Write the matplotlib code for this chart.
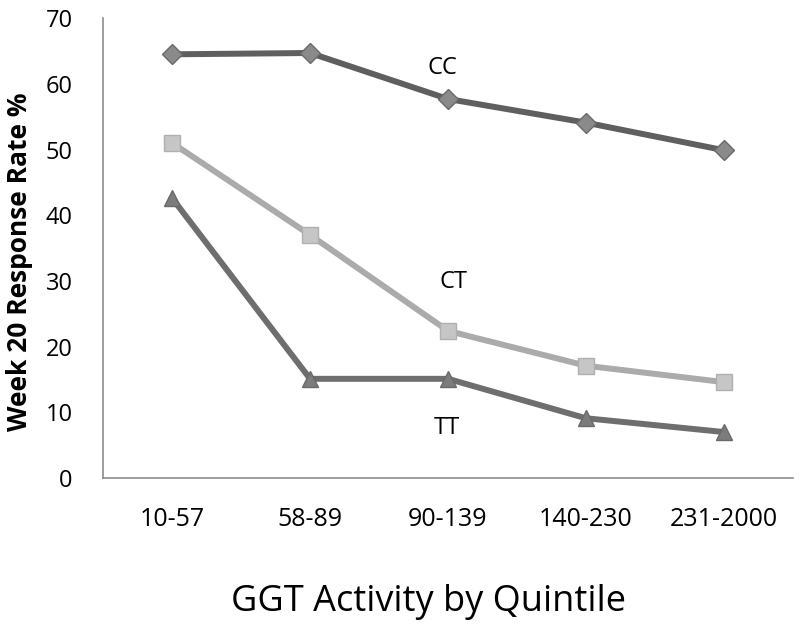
import matplotlib
matplotlib.use("Agg")
import matplotlib.pyplot as plt

plt.rcParams['font.family'] = ['Open Sans', 'DejaVu Sans']

quintiles = ['10-57', '58-89', '90-139', '140-230', '231-2000']
cc = [64.5, 64.7, 57.7, 54.1, 49.9]
ct = [51.0, 37.0, 22.4, 17.1, 14.6]
tt = [42.6, 15.1, 15.1, 9.1, 7.0]

fig = plt.figure(figsize=(8, 6.27), dpi=100)
ax = fig.add_axes([0.129, 0.2376, 0.862, 0.7334])

x = range(len(quintiles))
ax.plot(x, cc, color='#5f5f5f', lw=4.3, marker='D', ms=10,
        mfc='#8a8a8a', mec='#6a6a6a', zorder=3)
ax.plot(x, ct, color='#ababab', lw=4.3, marker='s', ms=12,
        mfc='#c6c6c6', mec='#b0b0b0', zorder=2)
ax.plot(x, tt, color='#6e6e6e', lw=4.3, marker='^', ms=12,
        mfc='#7c7c7c', mec='#6a6a6a', zorder=2)

ax.text(1.96, 62.4, 'CC', fontsize=17, ha='center', va='center')
ax.text(2.04, 29.8, 'CT', fontsize=17, ha='center', va='center')
ax.text(1.99, 7.6, 'TT', fontsize=17, ha='center', va='center')

ax.set_xlim(-0.5, 4.5)
ax.set_ylim(0, 70)
ax.set_yticks(range(0, 71, 10))
ax.set_xticks(list(x))
ax.set_xticklabels(quintiles)
ax.tick_params(length=0)
ax.tick_params(axis='y', labelsize=17, pad=22)
ax.tick_params(axis='x', labelsize=18, pad=21)
for side in ['top', 'right']:
    ax.spines[side].set_visible(False)
for side in ['left', 'bottom']:
    ax.spines[side].set_color('#8c8c8c')
    ax.spines[side].set_linewidth(1.2)

ax.set_ylabel('Week 20 Response Rate %', fontsize=19, fontweight='bold')
ax.yaxis.set_label_coords(-0.102, 0.47)
ax.set_xlabel('GGT Activity by Quintile', fontsize=26, labelpad=37)
ax.xaxis.label.set_x(0.471)

fig.savefig('out.png', dpi=100)
